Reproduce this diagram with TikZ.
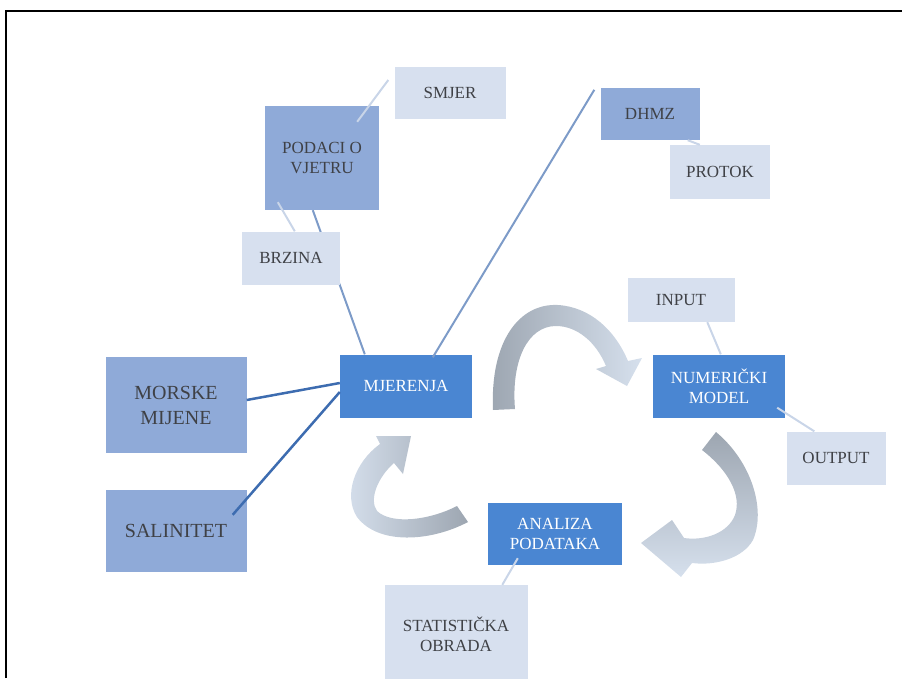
\documentclass[tikz,border=0pt]{standalone}
\usepackage{fontspec}
\setmainfont{Liberation Serif}
\usetikzlibrary{backgrounds}
\definecolor{dkblue}{HTML}{4A86D2}
\definecolor{mdblue}{HTML}{8FAAD8}
\definecolor{ltblue}{HTML}{D7E0EF}
\definecolor{txtgray}{HTML}{3F4146}
\definecolor{lnmid}{HTML}{7D9BC8}
\definecolor{lndark}{HTML}{3D6CB0}
\definecolor{lnlight}{HTML}{C9D5E8}
\definecolor{arrgray}{HTML}{9DA6B1}
\definecolor{arrlight}{HTML}{D6E0ED}
\tikzset{
  box/.style={rectangle, inner sep=0pt, align=center, font=\fontsize{17}{20}\selectfont},
  darkbox/.style={box, fill=dkblue, text=white},
  midbox/.style={box, fill=mdblue, text=txtgray},
  lightbox/.style={box, fill=ltblue, text=txtgray},
  bigtext/.style={font=\fontsize{20}{25}\selectfont},
  lightline/.style={draw=lnlight, line width=2pt},
  midline/.style={draw=lnmid, line width=2pt},
  darkline/.style={draw=lndark, line width=2.5pt}
}
\begin{document}
\begin{tikzpicture}[x=1pt,y=-1pt]
\useasboundingbox (0,0) rectangle (902,678);
\draw[line width=2pt] (6,678) -- (6,11) -- (902,11);

\node[lightbox, minimum width=111pt, minimum height=52pt] (sm) at (450,93) {SMJER};
\node[midbox, minimum width=114pt, minimum height=104pt] (pv) at (322,158) {PODACI O\\VJETRU};
\node[lightbox, minimum width=98pt, minimum height=53pt] (br) at (291,258) {BRZINA};
\node[midbox, minimum width=99pt, minimum height=52pt] (dh) at (650,114) {DHMZ};
\node[lightbox, minimum width=100pt, minimum height=54pt] (pr) at (720,172) {PROTOK};
\node[darkbox, minimum width=132pt, minimum height=63pt] (mj) at (406,386) {MJERENJA};
\node[midbox, bigtext, minimum width=141pt, minimum height=96pt] (mm) at (176,405) {MORSKE\\MIJENE};
\node[midbox, bigtext, minimum width=141pt, minimum height=82pt] (sa) at (176,531) {SALINITET};
\node[lightbox, minimum width=107pt, minimum height=44pt] (inp) at (681,300) {INPUT};
\node[darkbox, minimum width=132pt, minimum height=63pt] (nm) at (719,386) {NUMERIČKI\\MODEL};
\node[lightbox, minimum width=99pt, minimum height=53pt] (outp) at (836,458) {OUTPUT};
\node[darkbox, minimum width=134pt, minimum height=62pt] (ap) at (555,534) {ANALIZA\\PODATAKA};
\node[lightbox, minimum width=143pt, minimum height=98pt] (so) at (456,634) {STATISTIČKA\\OBRADA};

\begin{scope}[on background layer]
\draw[midline] ([xshift=48pt]pv.south west) -- ([xshift=25pt]mj.north west);
\end{scope}
\draw[lightline] ([xshift=-6pt,yshift=13pt]sm.west) -- ([xshift=-22pt,yshift=-16pt]pv.north east);
\draw[lightline] ([xshift=13pt,yshift=8pt]pv.south west) -- ([xshift=53pt]br.north west);
\draw[midline] ([xshift=-6pt,yshift=-2pt]dh.north west) -- ([xshift=93pt,yshift=-3pt]mj.north west);
\draw[lightline] ([xshift=-12pt]dh.south east) -- ([xshift=30pt]pr.north west);
\draw[darkline] ([yshift=5pt]mm.east) -- ([yshift=3pt]mj.west);
\draw[darkline] ([xshift=-14pt,yshift=-25pt]sa.north east) -- ([yshift=-6pt]mj.west);
\draw[lightline] ([xshift=80pt]inp.south west) -- ([xshift=68pt]nm.north west);
\draw[lightline] ([xshift=-8pt,yshift=10pt]nm.south east) -- ([xshift=28pt]outp.north west);
\draw[lightline] ([xshift=30pt,yshift=7pt]ap.south west) -- ([xshift=118pt]so.north west);

\shade[left color=arrgray, right color=arrlight] (493,410) .. controls (490,340) and (520,303) .. (558,305) .. controls (590,307) and (615,330) .. (628,361) -- (642,358) -- (627,386) -- (596,369) -- (606,366) .. controls (596,342) and (577,326) .. (556,326) .. controls (528,326) and (511,360) .. (515,409) -- cycle;
\shade[top color=arrgray, bottom color=arrlight] (702,450) -- (716,432) .. controls (752,462) and (766,510) .. (753,540) .. controls (743,558) and (716,566) .. (692,563) -- (681,577) -- (641,543) -- (672,520) -- (684,538) .. controls (705,541) and (728,533) .. (735,515) .. controls (742,495) and (728,470) .. (702,450) -- cycle;
\shade[left color=arrlight, right color=arrgray] (457,506) -- (468,522) .. controls (430,542) and (378,545) .. (357,517) .. controls (343,495) and (355,462) .. (380,444) -- (376,436) -- (411,436) -- (403,474) -- (394,463) .. controls (377,478) and (369,500) .. (377,511) .. controls (392,525) and (430,520) .. (457,506) -- cycle;
\end{tikzpicture}
\end{document}
